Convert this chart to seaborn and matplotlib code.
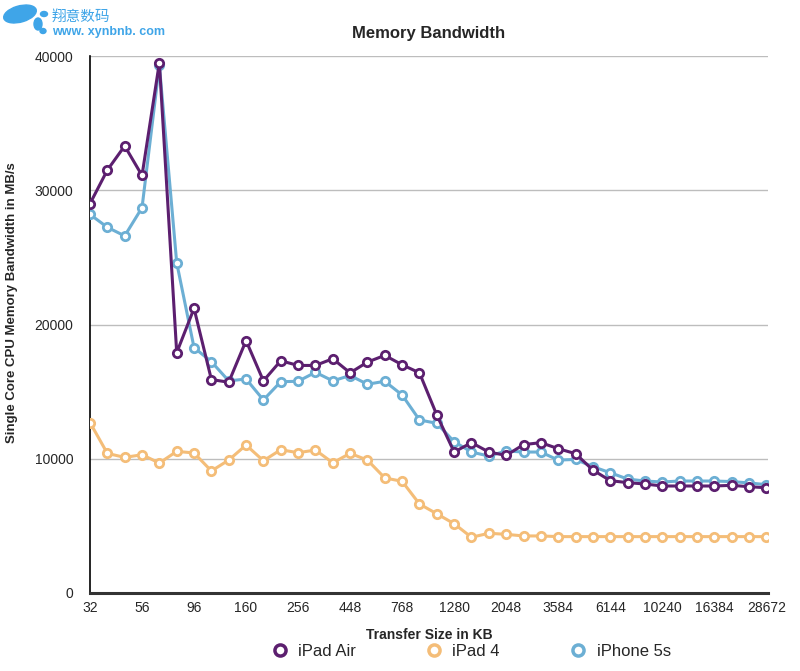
import matplotlib
matplotlib.use("Agg")
import matplotlib.pyplot as plt
import seaborn as sns
import pandas as pd
import numpy as np
from matplotlib.lines import Line2D
from matplotlib.patches import Ellipse

sizes = [32, 40, 48, 56, 64, 80, 96, 112, 128, 160, 192, 224, 256, 320, 384, 448,
         512, 640, 768, 896, 1024, 1280, 1536, 1792, 2048, 2560, 3072, 3584, 4096,
         5120, 6144, 7168, 8192, 10240, 12288, 14336, 16384, 20480, 24576, 28672]

ipad_air = [29000, 31500, 33300, 31100, 39500, 17900, 21200, 15900, 15700, 18800,
            15800, 17300, 16950, 16950, 17450, 16400, 17200, 17700, 17000, 16400,
            13260, 10500, 11200, 10500, 10250, 11050, 11200, 10750, 10380, 9160,
            8370, 8220, 8120, 7970, 7970, 7970, 7970, 8020, 7920, 7840]

ipad_4 = [12700, 10400, 10100, 10300, 9680, 10550, 10430, 9090, 9900, 11020,
          9850, 10670, 10450, 10650, 9700, 10400, 9900, 8570, 8320, 6630,
          5900, 5160, 4150, 4450, 4370, 4250, 4250, 4200, 4200, 4200,
          4200, 4200, 4200, 4200, 4200, 4200, 4200, 4200, 4200, 4200]

iphone_5s = [28200, 27240, 26600, 28700, 39300, 24600, 18280, 17230, 15800, 15940,
             14380, 15740, 15770, 16440, 15800, 16200, 15550, 15770, 14750, 12890,
             12640, 11270, 10500, 10200, 10580, 10500, 10500, 9900, 9950, 9410,
             8960, 8490, 8340, 8270, 8340, 8340, 8340, 8300, 8200, 8070]

series_names = ["iPad Air", "iPad 4", "iPhone 5s"]
colors = {"iPad Air": "#5c1f6f", "iPad 4": "#f4bd78", "iPhone 5s": "#6cafd4"}

rows = []
for name, vals in zip(series_names, [ipad_air, ipad_4, iphone_5s]):
    for i, (s, v) in enumerate(zip(sizes, vals)):
        rows.append({"pos": i, "size": s, "value": v, "device": name})
df = pd.DataFrame(rows)

sns.set_style("white")
plt.rcParams["font.family"] = ["Liberation Sans", "DejaVu Sans"]

fig = plt.figure(figsize=(8, 6.71), dpi=100)
ax = fig.add_axes([90/800, 1-593/671, (768-90)/800, (593-56)/671])

for name in ["iPad 4", "iPhone 5s", "iPad Air"]:
    sub = df[df.device == name]
    sns.lineplot(data=sub, x="pos", y="value", ax=ax, color=colors[name],
                 linewidth=2.2, marker="o", markersize=6, markerfacecolor="white",
                 markeredgecolor=colors[name], markeredgewidth=2.0, zorder=3,
                 legend=False)

ax.set_xlim(0, len(sizes) - 1 + 0.1)
ax.set_ylim(0, 40000)
ax.set_yticks([0, 10000, 20000, 30000, 40000])
ax.set_yticklabels(["0", "10000", "20000", "30000", "40000"], fontsize=10)
tick_pos = list(range(0, len(sizes), 3))
ax.set_xticks(tick_pos)
ax.set_xticklabels([str(sizes[i]) for i in tick_pos], fontsize=10)
ax.yaxis.grid(True, color="#bdbdbd", linewidth=1.0)
ax.xaxis.grid(False)
for s in ["top", "right"]:
    ax.spines[s].set_visible(False)
ax.spines["left"].set_color("black")
ax.spines["left"].set_linewidth(1.2)
ax.spines["bottom"].set_color("#333333")
ax.spines["bottom"].set_linewidth(2.2)
ax.tick_params(axis="x", length=0, pad=6)
ax.tick_params(axis="y", length=0, pad=12)
ax.set_xlabel("Transfer Size in KB", fontsize=10, fontweight="bold", labelpad=9)
ax.set_ylabel("Single Core CPU Memory Bandwidth in MB/s", fontsize=9.5,
              fontweight="bold")
ax.yaxis.set_label_coords((18-90)/678, (593-303)/537)
ax.set_title("Memory Bandwidth", fontsize=12, fontweight="bold", pad=13)

handles = [Line2D([], [], linestyle="none", marker="o", markersize=8,
                  markerfacecolor="white", markeredgecolor=colors[n],
                  markeredgewidth=2.5) for n in series_names]
fig.legend(handles, series_names, loc="center", bbox_to_anchor=(471/800, 1-651/671),
           ncol=3, frameon=False, fontsize=12, handlelength=1.0, handletextpad=0.6,
           columnspacing=4.2)

# watermark
wm = "#3fa5e8"
for (cx, cy, w, h, ang) in [(20, 14, 34, 16, 20), (38, 24, 8, 12, 0), (44, 14, 7, 5, 0),
                            (43, 31, 6, 5, 0)]:
    fig.patches.append(Ellipse((cx/800, 1-cy/671), w/800, h/671, angle=ang,
                               transform=fig.transFigure, color=wm, zorder=0))
fig.text(52/800, 1-17/671, "翔意数码", color=wm, fontsize=10.5,
         family=["Noto Sans CJK SC", "DejaVu Sans"], va="center", ha="left")
fig.text(52/800, 1-32/671, "www. xynbnb. com", color=wm, fontsize=9,
         fontweight="bold", va="center", ha="left")

fig.savefig("out.png", dpi=100)
